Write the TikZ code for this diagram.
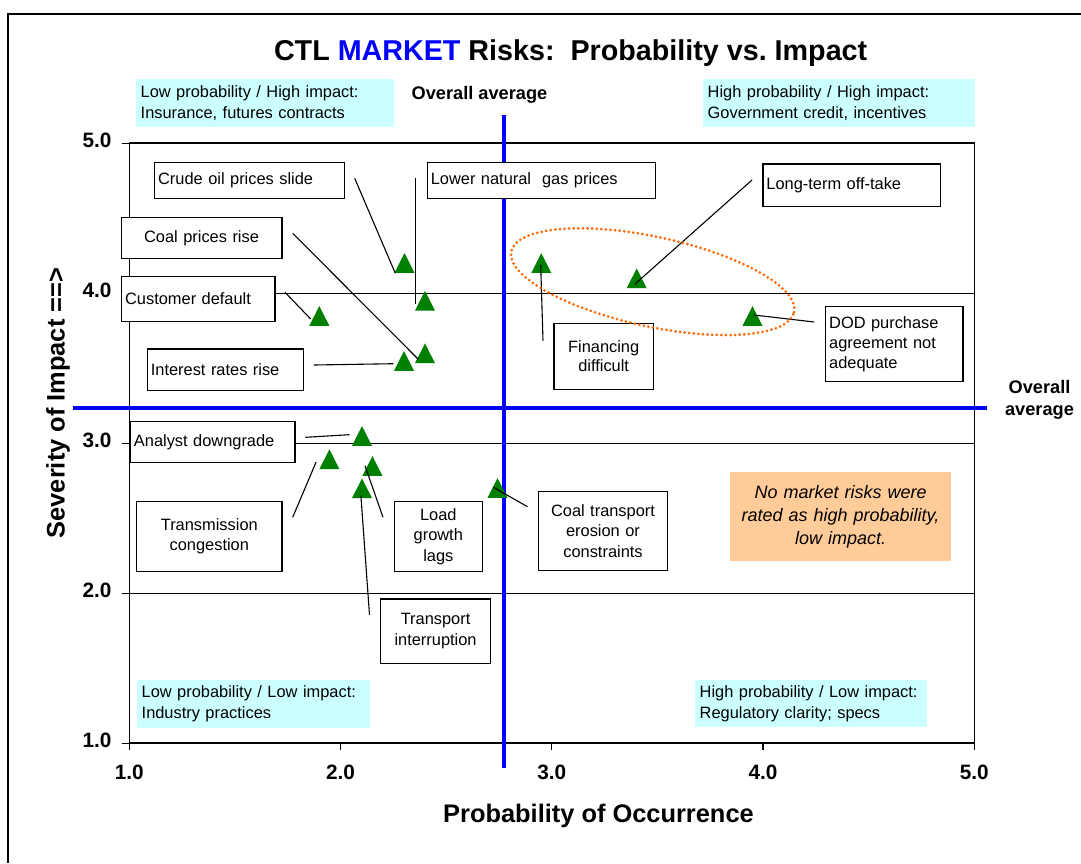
\documentclass[tikz,border=0pt]{standalone}
\usepackage{fontspec}
\setmainfont{Liberation Sans}
\frenchspacing
\definecolor{avgblue}{HTML}{0000FF}
\definecolor{mkgreen}{HTML}{008000}
\definecolor{cyanbg}{HTML}{CCFFFF}
\definecolor{orangebg}{HTML}{FFCC99}
\definecolor{ellcol}{HTML}{FF6600}
\begin{document}
\begin{tikzpicture}[x=1pt,y=-1pt,
  lbl/.style={draw=black, line width=1.3pt, fill=white, inner xsep=3.5pt, inner ysep=0pt, anchor=north west, font=\fontsize{16.4}{20.5}\selectfont},
  quad/.style={fill=cyanbg, inner xsep=4.5pt, inner ysep=0pt, anchor=north west, align=left, font=\fontsize{16.4}{21}\selectfont},
  conn/.style={draw=black, line width=1.1pt},
  gridln/.style={draw=black, line width=0.9pt},
  avg/.style={draw=avgblue, line width=4.3pt},
  ticklbl/.style={font=\bfseries\fontsize{20.8}{24}\selectfont, inner sep=0pt, text height=0.716em, text depth=0pt},
  bigbold/.style={font=\bfseries\fontsize{25.4}{30}\selectfont, inner sep=0pt},
  avglbl/.style={font=\bfseries\fontsize{18.2}{22}\selectfont, inner sep=0pt},
  mk/.pic={\fill[mkgreen] (-10,9.85) -- (10,9.85) -- (0,-9.85) -- cycle;}
]
\useasboundingbox (0,0) rectangle (1081,863);
\fill[white] (0,0) rectangle (1081,863);
% outer frame
\draw[line width=2.7pt] (8,863) -- (8,14) -- (1081,14);

% title
\node[anchor=base west, inner sep=0pt, font=\bfseries\fontsize{28.7}{34}\selectfont] (title) at (273.8,60)
  {CTL \textcolor{avgblue}{MARKET} Risks:\ \ Probability vs. Impact};

% quadrant notes
\node[quad, text width=248.6pt, minimum height=48pt] (qtl) at (136,79) {Low probability / High impact:\\Insurance, futures contracts};
\node[quad, text width=263pt, minimum height=48pt] (qtr) at (703,79) {High probability / High impact:\\Government credit, incentives};
\node[quad, text width=224pt, minimum height=48pt] (qbl) at (137,680) {Low probability / Low impact:\\Industry practices};
\node[quad, text width=222.5pt, minimum height=47pt] (qbr) at (695,680) {High probability / Low impact:\\Regulatory clarity; specs};

% grid lines
\foreach \yy in {293,443,593} {\draw[gridln] (129.3,\yy) -- (974.3,\yy);}
% plot frame
\draw[line width=1.5pt] (129.3,143) rectangle (974.3,743);
% ticks and tick labels
\foreach \v/\n/\yy in {5.0/5/143.5, 4.0/4/293.5, 3.0/3/443.5, 2.0/2/593.5, 1.0/1/743.5} {
  \draw[line width=1.2pt] (121.5,\yy) -- (129.3,\yy);
  \node[ticklbl, anchor=east] (yt\n) at (111.7,\yy) {\v};
}
\foreach \v/\n/\xx in {1.0/1/129.3, 2.0/2/340.5, 3.0/3/551.8, 4.0/4/763, 5.0/5/974.3} {
  \draw[line width=1.2pt] (\xx,743) -- (\xx,750);
  \node[ticklbl] (xt\n) at (\xx,775.8) {\v};
}

% axis titles
\node[bigbold, anchor=base] (xlab) at (598.5,822.7) {Probability of Occurrence};
\node[bigbold, rotate=90, anchor=base] (ylab) at (64.5,403) {Severity of Impact ==>};

% overall average lines
\draw[avg] (504,115) -- (504,768);
\draw[avg] (73,408) -- (987,408);
\node[avglbl, anchor=base west] (avgv) at (411.5,99.3) {Overall average};
\node[avglbl, align=center] (avgh) at (1039.5,400) {Overall\\average};

% label boxes
\node[lbl, text width=182.7pt, minimum height=36pt, align=left] (crude) at (154,161.7) {Crude oil prices slide};
\node[lbl, text width=221.3pt, minimum height=36pt, align=left] (gas) at (426.7,161.7) {Lower natural\ \ gas prices};
\node[lbl, text width=153.8pt, minimum height=41pt, align=center] (coalp) at (120.5,216.7) {Coal prices rise};
\node[lbl, text width=146.3pt, minimum height=45.3pt, align=left] (cust) at (121,275.7) {Customer default};
\node[lbl, text width=149pt, minimum height=41.7pt, align=left] (intr) at (146.7,348.3) {Interest rates rise};
\node[lbl, text width=170.5pt, minimum height=42.7pt, align=left] (lterm) at (762.3,163.3) {Long-term off-take};
\node[lbl, text width=92.4pt, minimum height=66.3pt, align=center, font=\fontsize{16.4}{19}\selectfont] (fin) at (553.3,322.7) {Financing\\difficult};
\node[lbl, text width=130.4pt, minimum height=75.3pt, align=left, font=\fontsize{16.4}{20}\selectfont] (dod) at (825,305.7) {DOD purchase\\agreement not\\adequate};
\node[lbl, text width=157.6pt, minimum height=41.3pt, align=left] (anal) at (129.8,420.7) {Analyst downgrade};
\node[lbl, text width=138.3pt, minimum height=70pt, align=center, font=\fontsize{16.4}{20}\selectfont] (trans) at (136,500.7) {Transmission\\congestion};
\node[lbl, text width=81.1pt, minimum height=70pt, align=center] (load) at (393.6,500.7) {Load\\growth\\lags};
\node[lbl, text width=103.2pt, minimum height=64.4pt, align=center] (tport) at (379.8,598.3) {Transport\\interruption};
\node[lbl, text width=121.7pt, minimum height=79.3pt, align=center] (coalt) at (538,490.7) {Coal transport\\erosion or\\constraints};

% note
\node[fill=orangebg, anchor=north west, inner sep=0pt, text width=220.7pt, minimum height=88.7pt, align=center,
  font=\itshape\fontsize{18}{23}\selectfont] (note) at (730,472) {No market risks were\\rated as high probability,\\low impact.};

% markers
\coordinate (p1) at (404.5,262.9);
\coordinate (p2) at (425,300.7);
\coordinate (p3) at (425,353.3);
\coordinate (p4) at (319.3,315.9);
\coordinate (p5) at (404,360.9);
\coordinate (p6) at (541.3,263);
\coordinate (p7) at (636.7,278.3);
\coordinate (p8) at (752.5,316);
\coordinate (p9) at (362,435.9);
\coordinate (p10) at (329.4,459.2);
\coordinate (p11) at (372.4,465.9);
\coordinate (p12) at (362,488.3);
\coordinate (p13) at (497.5,487.9);
\foreach \i in {1,...,13} {\pic at (p\i) {mk};}

% connectors
\coordinate (c1) at (354.7,178.3);  \coordinate (e1) at (395.3,273.3);
\coordinate (c2) at (415.6,178.3);  \coordinate (e2) at (415.6,304);
\coordinate (c3) at (292.7,233.3);  \coordinate (e3) at (418.3,359.3);
\coordinate (c4) at (285,292.3);    \coordinate (e4) at (310.7,319);
\coordinate (c5) at (314,365);      \coordinate (e5) at (393.3,363.7);
\coordinate (c6) at (543,340.7);    \coordinate (e6) at (540.7,265);
\coordinate (c7) at (752,180);      \coordinate (e7) at (635,284);
\coordinate (c8) at (814.2,322);    \coordinate (e8) at (753.8,315);
\coordinate (c9) at (305.4,437.3);  \coordinate (e9) at (349.5,434.7);
\coordinate (c10) at (292.7,517.3); \coordinate (e10) at (316.1,462);
\coordinate (c11) at (383,517.3);   \coordinate (e11) at (365,465.7);
\coordinate (c12) at (369.5,615);   \coordinate (e12) at (360.9,495.7);
\coordinate (c13) at (527.5,506.7); \coordinate (e13) at (493.4,487.3);
\foreach \i in {1,...,13} {\draw[conn] (c\i) -- (e\i);}

% grouping ellipse
\draw[ellcol, line width=3pt, line cap=round, dash pattern=on 0pt off 4.6pt,
  rotate around={-12.15:(652.7,281.7)}] (652.7,281.7) ellipse [x radius=144.6pt, y radius=44.85pt];
\end{tikzpicture}
\end{document}
